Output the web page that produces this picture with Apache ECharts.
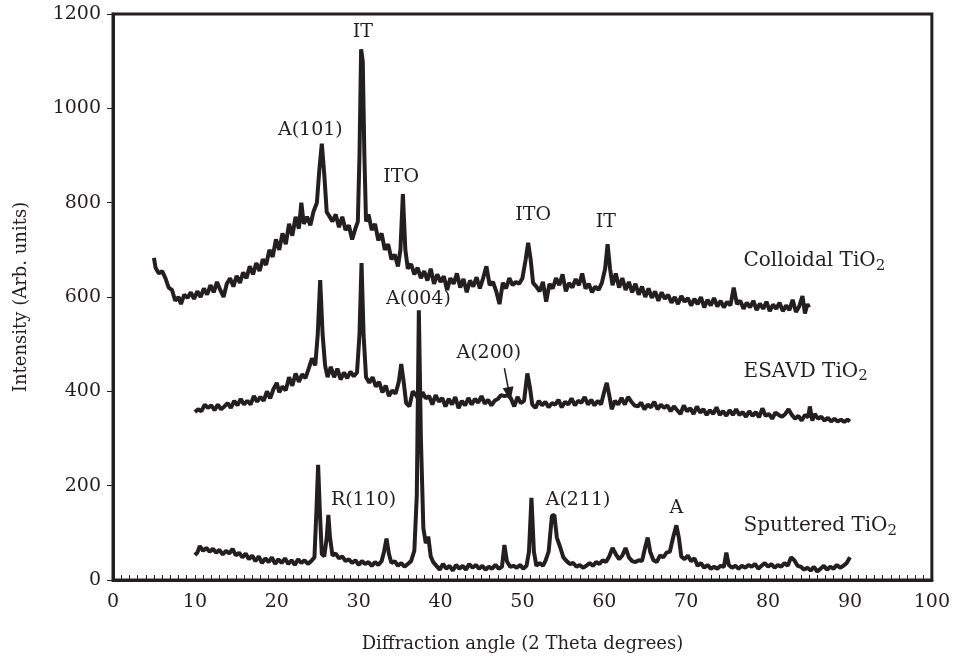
<!DOCTYPE html>
<html>
<head>
<meta charset="utf-8">
<script src="https://cdn.jsdelivr.net/npm/echarts@6/dist/echarts.min.js"></script>
<style>
  html, body { margin: 0; padding: 0; background: #fff; }
  #xrd { width: 953px; height: 659px; }
</style>
</head>
<body>
<div id="xrd"></div>
<script>
// diffraction patterns: [2theta, intensity]
var colloidal = [
  [5.0,683],[5.2,662],[5.6,650],[6.0,655],[6.4,640],[6.8,620],[7.2,615],[7.6,592],[8.0,600],[8.3,585],
  [8.7,605],[9.1,598],[9.5,610],[9.9,596],[10.3,612],[10.7,600],[11.1,618],[11.5,605],[11.9,625],[12.3,610],
  [12.7,632],[13.1,615],[13.5,600],[13.9,628],[14.3,640],[14.7,622],[15.1,645],[15.5,630],[15.9,652],[16.3,640],
  [16.7,665],[17.1,648],[17.5,672],[17.9,655],[18.3,680],[18.7,668],[19.1,700],[19.5,685],[19.9,722],[20.3,700],
  [20.7,735],[21.1,712],[21.5,755],[21.9,730],[22.3,770],[22.7,745],[23.0,800],[23.3,755],[23.7,770],[24.1,752],
  [24.5,782],[24.9,800],[25.2,870],[25.5,925],[25.8,860],[26.1,780],[26.4,772],[26.8,760],[27.2,775],[27.6,748],
  [28.0,770],[28.4,742],[28.8,752],[29.2,722],[29.6,745],[29.9,760],[30.1,900],[30.3,1125],[30.5,1100],[30.7,900],
  [30.9,760],[31.2,775],[31.6,742],[32.0,755],[32.4,720],[32.8,735],[33.2,700],[33.6,712],[34.0,680],[34.4,690],
  [34.8,665],[35.1,700],[35.4,818],[35.7,700],[36.0,660],[36.4,670],[36.8,648],[37.2,662],[37.6,640],[38.0,655],
  [38.4,635],[38.8,660],[39.2,628],[39.6,648],[40.0,632],[40.4,644],[40.8,615],[41.2,640],[41.6,628],[42.0,650],
  [42.4,620],[42.8,638],[43.2,610],[43.6,635],[44.0,622],[44.4,642],[44.8,618],[45.2,640],[45.6,665],[46.0,625],
  [46.4,632],[46.8,612],[47.2,585],[47.6,630],[48.0,618],[48.4,640],[48.8,625],[49.2,632],[49.6,628],[50.0,640],
  [50.4,680],[50.7,715],[51.0,680],[51.3,630],[51.7,622],[52.1,612],[52.5,632],[52.9,590],[53.3,628],[53.7,618],
  [54.1,640],[54.5,625],[54.9,648],[55.3,612],[55.7,630],[56.1,620],[56.5,638],[56.9,625],[57.3,650],[57.7,618],
  [58.1,628],[58.5,610],[58.9,622],[59.3,615],[59.7,630],[60.1,660],[60.4,712],[60.7,660],[61.0,625],[61.4,650],
  [61.8,620],[62.2,640],[62.6,615],[63.0,632],[63.4,610],[63.8,628],[64.2,605],[64.6,622],[65.0,600],[65.4,618],
  [65.8,598],[66.2,612],[66.6,592],[67.0,610],[67.4,596],[67.8,605],[68.2,588],[68.6,600],[69.0,585],[69.4,602],
  [69.8,590],[70.2,598],[70.6,582],[71.0,596],[71.4,585],[71.8,600],[72.2,578],[72.6,594],[73.0,582],[73.4,598],
  [73.8,580],[74.2,592],[74.6,578],[75.0,590],[75.4,582],[75.8,620],[76.2,585],[76.6,592],[77.0,575],[77.4,588],
  [77.8,578],[78.2,592],[78.6,572],[79.0,586],[79.4,575],[79.8,590],[80.2,570],[80.6,584],[81.0,575],[81.4,588],
  [81.8,570],[82.2,582],[82.6,572],[83.0,594],[83.4,568],[83.8,580],[84.2,602],[84.5,565],[84.8,585],[85.0,578]
];

var esavd = [
  [10.0,356],[10.4,362],[10.8,358],[11.2,372],[11.6,365],[12.0,370],[12.4,360],[12.8,372],[13.2,362],[13.6,368],
  [14.0,375],[14.4,365],[14.8,380],[15.2,370],[15.6,384],[16.0,372],[16.4,380],[16.8,372],[17.2,390],[17.6,378],
  [18.0,388],[18.4,380],[18.8,400],[19.2,385],[19.6,405],[20.0,418],[20.3,398],[20.7,410],[21.1,402],[21.5,430],
  [21.9,412],[22.3,438],[22.7,420],[23.1,436],[23.5,428],[23.9,448],[24.3,470],[24.7,455],[25.0,520],[25.3,636],
  [25.6,520],[25.9,455],[26.2,430],[26.6,452],[27.0,430],[27.4,448],[27.8,425],[28.2,440],[28.6,428],[29.0,442],
  [29.4,432],[29.8,440],[30.1,520],[30.35,672],[30.6,520],[30.9,430],[31.3,418],[31.7,430],[32.1,410],[32.5,420],
  [32.9,398],[33.3,412],[33.7,390],[34.1,402],[34.5,395],[34.9,420],[35.2,458],[35.5,420],[35.8,375],[36.2,368],
  [36.6,400],[37.0,392],[37.4,380],[37.8,398],[38.2,385],[38.6,390],[39.0,372],[39.4,392],[39.8,378],[40.2,386],
  [40.6,368],[41.0,384],[41.4,372],[41.8,388],[42.2,364],[42.6,380],[43.0,370],[43.4,386],[43.8,372],[44.2,384],
  [44.6,376],[45.0,390],[45.4,374],[45.8,382],[46.2,370],[46.6,380],[47.0,384],[47.4,392],[47.8,390],[48.2,392],
  [48.6,385],[49.0,368],[49.4,388],[49.8,375],[50.2,380],[50.6,438],[50.9,410],[51.2,372],[51.6,365],[52.0,380],
  [52.4,370],[52.8,378],[53.2,366],[53.6,375],[54.0,372],[54.4,382],[54.8,366],[55.2,378],[55.6,372],[56.0,385],
  [56.4,370],[56.8,380],[57.2,376],[57.6,388],[58.0,372],[58.4,382],[58.8,370],[59.2,380],[59.6,372],[60.0,400],
  [60.3,418],[60.6,392],[60.9,362],[61.3,380],[61.7,372],[62.1,386],[62.5,372],[62.9,388],[63.3,378],[63.7,370],
  [64.1,368],[64.5,376],[64.9,362],[65.3,372],[65.7,366],[66.1,378],[66.5,362],[66.9,372],[67.3,365],[67.7,370],
  [68.1,358],[68.5,368],[68.9,360],[69.3,352],[69.7,370],[70.1,358],[70.5,364],[70.9,352],[71.3,368],[71.7,355],
  [72.1,362],[72.5,350],[72.9,360],[73.3,352],[73.7,366],[74.1,350],[74.5,358],[74.9,348],[75.3,360],[75.7,350],
  [76.1,362],[76.5,350],[76.9,356],[77.3,346],[77.7,358],[78.1,348],[78.5,356],[78.9,345],[79.3,364],[79.7,348],
  [80.1,352],[80.5,342],[80.9,355],[81.3,350],[81.7,346],[82.1,352],[82.5,362],[82.9,350],[83.3,342],[83.7,348],
  [84.1,338],[84.5,350],[84.9,345],[85.1,368],[85.4,338],[85.7,352],[86.1,342],[86.5,346],[86.9,338],[87.3,344],
  [87.7,336],[88.1,342],[88.5,336],[88.9,340],[89.3,335],[89.7,340],[90.0,336]
];

var sputtered = [
  [10.0,53],[10.3,58],[10.6,72],[11.0,62],[11.4,68],[11.8,60],[12.2,66],[12.6,58],[13.0,64],[13.4,54],
  [13.8,62],[14.2,56],[14.6,66],[15.0,52],[15.4,58],[15.8,48],[16.2,56],[16.6,44],[17.0,52],[17.4,40],
  [17.8,50],[18.2,36],[18.6,46],[19.0,38],[19.4,48],[19.8,34],[20.2,44],[20.6,36],[21.0,46],[21.4,34],
  [21.8,42],[22.2,32],[22.6,44],[23.0,36],[23.4,42],[23.8,34],[24.2,40],[24.6,48],[24.85,150],[25.05,244],
  [25.25,150],[25.5,55],[25.8,50],[26.1,90],[26.3,138],[26.5,90],[26.8,52],[27.2,56],[27.6,46],[28.0,50],
  [28.4,40],[28.8,44],[29.2,36],[29.6,42],[30.0,32],[30.4,40],[30.8,34],[31.2,38],[31.6,30],[32.0,38],
  [32.4,32],[32.8,40],[33.1,60],[33.4,88],[33.7,55],[34.0,36],[34.4,40],[34.8,30],[35.2,36],[35.6,28],
  [36.0,34],[36.4,40],[36.8,62],[37.1,180],[37.35,572],[37.6,300],[37.9,110],[38.2,78],[38.5,92],[38.8,50],
  [39.1,38],[39.5,30],[39.9,22],[40.3,34],[40.7,24],[41.1,30],[41.5,20],[41.9,32],[42.3,24],[42.7,30],
  [43.1,22],[43.5,34],[43.9,26],[44.3,32],[44.7,24],[45.1,30],[45.5,22],[45.9,28],[46.3,24],[46.7,32],
  [47.1,24],[47.5,28],[47.8,74],[48.1,40],[48.5,28],[48.9,30],[49.3,26],[49.7,32],[50.1,24],[50.5,30],
  [50.8,60],[51.1,174],[51.4,60],[51.7,30],[52.1,36],[52.5,30],[52.8,40],[53.2,60],[53.6,136],[53.9,138],
  [54.2,90],[54.6,70],[55.0,48],[55.4,40],[55.8,34],[56.2,36],[56.6,28],[57.0,32],[57.4,26],[57.8,30],
  [58.2,36],[58.6,30],[59.0,38],[59.4,34],[59.8,42],[60.2,38],[60.6,50],[61.0,68],[61.4,55],[61.8,44],
  [62.2,52],[62.6,68],[63.0,48],[63.4,40],[63.8,38],[64.2,42],[64.6,40],[65.0,70],[65.3,90],[65.6,60],
  [66.0,42],[66.4,38],[66.8,52],[67.2,48],[67.6,58],[68.0,60],[68.4,90],[68.8,116],[69.1,90],[69.4,50],
  [69.8,44],[70.2,52],[70.6,40],[71.0,46],[71.4,30],[71.8,36],[72.2,26],[72.6,32],[73.0,24],[73.4,28],
  [73.8,24],[74.2,30],[74.6,28],[74.9,58],[75.2,32],[75.6,26],[76.0,30],[76.4,24],[76.8,30],[77.2,26],
  [77.6,32],[78.0,28],[78.4,34],[78.8,24],[79.2,30],[79.6,36],[80.0,28],[80.4,34],[80.8,26],[81.2,32],
  [81.6,28],[82.0,36],[82.4,30],[82.8,48],[83.2,42],[83.6,30],[84.0,28],[84.4,22],[84.8,26],[85.2,20],
  [85.6,28],[86.0,18],[86.4,24],[86.8,30],[87.2,22],[87.6,28],[88.0,24],[88.4,32],[88.8,26],[89.2,30],
  [89.6,36],[90.0,48]
];

// peak labels and sample names (data coordinates)
var colloidalNotes = [
  ['IT', 30.5, 1162, 'center'], ['A(101)', 24.1, 954, 'center'], ['ITO', 35.2, 854, 'center'],
  ['ITO', 51.3, 774, 'center'], ['IT', 60.2, 759, 'center'], ['Colloidal TiO_2', 77.0, 676, 'left']
];
var esavdNotes = [
  ['A(004)', 37.3, 596, 'center'], ['A(200)', 45.9, 481, 'center'], ['ESAVD TiO_2', 77.0, 441, 'left']
];
var sputteredNotes = [
  ['R(110)', 30.6, 170, 'center'], ['A(211)', 56.8, 170, 'center'], ['A', 68.8, 153, 'center'],
  ['Sputtered TiO_2', 77.0, 114, 'left']
];
var arrowA200 = [[47.8, 449], [48.4, 394]];

var serif = 'DejaVu Serif';
var ink = '#231f20';

function notes(list) {
  return list.map(function (n) {
    var parts = n[0].split('_');
    var txt = parts.length > 1 ? '{b|' + parts[0] + '}{s|' + parts[1] + '}' : '{n|' + parts[0] + '}';
    return {
      coord: [n[1], n[2]],
      label: { formatter: txt, align: n[3] }
    };
  });
}

function pattern(name, data, list) {
  return {
    name: name,
    type: 'line',
    data: data,
    showSymbol: false,
    lineStyle: { color: ink, width: 4 },
    itemStyle: { color: ink },
    markPoint: {
      symbol: 'circle',
      symbolSize: 1,
      itemStyle: { color: 'rgba(0,0,0,0)' },
      label: {
        show: true,
        position: 'inside',
        color: ink,
        rich: {
          n: { fontFamily: serif, fontSize: 19, color: ink },
          b: { fontFamily: serif, fontSize: 20, color: ink },
          s: { fontFamily: serif, fontSize: 15, color: ink, padding: [9, 0, 0, 0] }
        }
      },
      data: notes(list)
    }
  };
}

var chartDom = document.getElementById('xrd');
var myChart = echarts.init(chartDom);
var option;

var sEsavd = pattern('ESAVD', esavd, esavdNotes);
sEsavd.markLine = {
  silent: true,
  symbol: ['none', 'triangle'],
  symbolSize: [11, 14],
  lineStyle: { color: ink, width: 1.5, type: 'solid' },
  label: { show: false },
  data: [[{ coord: arrowA200[0] }, { coord: arrowA200[1] }]]
};

option = {
  animation: false,
  backgroundColor: '#fff',
  grid: {
    left: 113, right: 20, top: 14, bottom: 79,
    show: true, borderColor: ink, borderWidth: 3
  },
  xAxis: {
    type: 'value',
    min: 0, max: 100, interval: 10,
    name: 'Diffraction angle (2 Theta degrees)',
    nameLocation: 'middle',
    nameGap: 55,
    nameTextStyle: { fontFamily: serif, fontSize: 18, color: ink },
    axisLine: { show: true, lineStyle: { color: ink, width: 3 } },
    axisTick: { show: true, inside: true, length: 5, lineStyle: { color: ink, width: 1 } },
    minorTick: { show: true, splitNumber: 10, length: 5, lineStyle: { color: ink, width: 1 } },
    splitLine: { show: false },
    axisLabel: { fontFamily: serif, fontSize: 19, color: ink, margin: 13 }
  },
  yAxis: {
    type: 'value',
    min: 0, max: 1200, interval: 200,
    name: 'Intensity (Arb. units)',
    nameLocation: 'middle',
    nameGap: 83,
    nameTextStyle: { fontFamily: serif, fontSize: 18, color: ink },
    axisLine: { show: true, lineStyle: { color: ink, width: 3 } },
    axisTick: { show: true, inside: false, length: 6, lineStyle: { color: ink, width: 1 } },
    splitLine: { show: false },
    axisLabel: {
      fontFamily: serif, fontSize: 19, color: ink, margin: 12,
      formatter: function (v) { return String(v); }
    }
  },
  series: [
    pattern('Colloidal', colloidal, colloidalNotes),
    sEsavd,
    pattern('Sputtered', sputtered, sputteredNotes)
  ]
};

option && myChart.setOption(option);
</script>
</body>
</html>
